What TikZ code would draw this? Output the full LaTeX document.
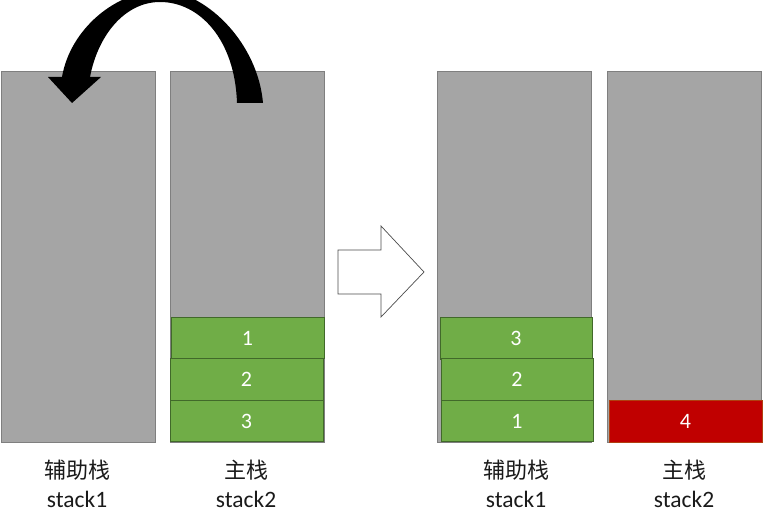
\documentclass[tikz,border=0pt]{standalone}
\usepackage{fontspec}
\setmainfont{Carlito}
\newfontfamily\cjk{Noto Sans CJK SC}
\definecolor{stackgray}{HTML}{A5A5A5}
\definecolor{stackedge}{HTML}{7F7F7F}
\definecolor{blockgreen}{HTML}{70AD47}
\definecolor{greenedge}{HTML}{41692A}
\definecolor{blockred}{HTML}{C00000}
\definecolor{rededge}{HTML}{B04010}
\definecolor{labelcol}{HTML}{1A1A1A}
\begin{document}
\begin{tikzpicture}[x=1pt,y=-1pt,
  stackbox/.style={draw=stackedge,fill=stackgray,line width=0.8pt,minimum width=154pt,minimum height=371pt,inner sep=0pt,outer sep=0pt},
  gblock/.style={draw=greenedge,fill=blockgreen,line width=0.8pt,minimum width=153pt,minimum height=41.5pt,inner sep=0pt,outer sep=0pt,text=white,font=\fontsize{22}{24}\selectfont},
  rblock/.style={draw=rededge,fill=blockred,line width=0.8pt,minimum width=153pt,minimum height=42pt,inner sep=0pt,outer sep=0pt,text=white,font=\fontsize{22}{24}\selectfont},
  cnlabel/.style={text=labelcol,font=\cjk\fontsize{22}{24}\selectfont,inner sep=0pt},
  enlabel/.style={text=labelcol,font=\fontsize{23.5}{26}\selectfont,inner sep=0pt}]
\useasboundingbox (0,0) rectangle (763,529);
\clip (0,0) rectangle (763,529);
% stacks
\node[stackbox] (s1l) at (78,256.5) {};
\node[stackbox] (s2l) at (247,256.5) {};
\node[stackbox] (s1r) at (514,256.5) {};
\node[stackbox] (s2r) at (684.5,256.5) {};
% left blocks
\node[gblock] (l1) at (247.5,338) {1};
\node[gblock] (l2) at (246.5,379.5) {2};
\node[gblock] (l3) at (246.5,421) {3};
% right blocks
\node[gblock,minimum width=152pt] (r3) at (516,338.5) {3};
\node[gblock,minimum width=152pt] (r2) at (517,379.5) {2};
\node[gblock,minimum width=152pt] (r1) at (517,421) {1};
\node[rblock] (r4) at (685.5,421) {4};
% labels
\node[cnlabel] (c1) at (77,470) {辅助栈};
\node[enlabel] (e1) at (77,499) {stack1};
\node[cnlabel] (c2) at (246,470) {主栈};
\node[enlabel] (e2) at (246,499) {stack2};
\node[cnlabel] (c3) at (516,470) {辅助栈};
\node[enlabel] (e3) at (516,499) {stack1};
\node[cnlabel] (c4) at (684,470) {主栈};
\node[enlabel] (e4) at (684,499) {stack2};
% block arrow
\draw[line width=0.7pt,draw=black!70,fill=white,line join=miter]
  (338,250) -- (381,250) -- (381,226) -- (424,272) -- (381,317) -- (381,294) -- (338,294) -- cycle;
% curved arrow
\fill[black]
  (263,103) .. controls (258,45) and (210,-5) .. (165,-10)
  .. controls (115,-10) and (70,30) .. (62,77)
  -- (48,77) -- (72,103) -- (101,77) -- (90,77)
  .. controls (98,35) and (125,2) .. (160,2)
  .. controls (200,2) and (235,40) .. (237,103) -- cycle;
\end{tikzpicture}
\end{document}
